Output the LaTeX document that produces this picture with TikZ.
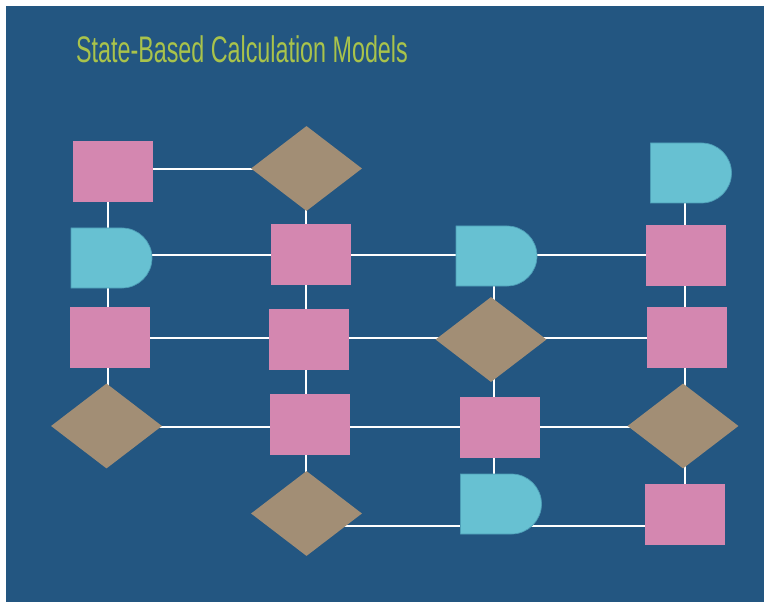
\documentclass[tikz,border=0pt]{standalone}
\usepackage{fontspec}
\setmainfont{Liberation Sans}
\usetikzlibrary{shapes.geometric, shapes.misc, positioning}

\definecolor{bgblue}{HTML}{235681}
\definecolor{boxpink}{HTML}{D487B0}
\definecolor{choicetan}{HTML}{A28E75}
\definecolor{delaycyan}{HTML}{67C1D2}
\definecolor{delayedge}{HTML}{4D9DB6}
\definecolor{titlegreen}{HTML}{A9C34B}

\pgfdeclarelayer{canvas}
\pgfdeclarelayer{links}
\pgfsetlayers{canvas,links,main}

\begin{document}
\begin{tikzpicture}[x=1pt, y=-1pt, link/.style={white, line width=2.8pt}]
        \tikzstyle{box}=[rectangle, fill=boxpink, minimum width=80pt, minimum height=61pt, inner sep=0pt]
        \tikzstyle{choice}=[diamond, fill=choicetan, minimum width=111pt, minimum height=85pt, inner sep=0pt]
        \tikzstyle{delay}=[rounded rectangle, rounded rectangle left arc=none, fill=delaycyan, draw=delayedge, line width=0.7pt, minimum width=81pt, minimum height=60pt, inner sep=0pt]
        \useasboundingbox (0,0) rectangle (766,604);
        \begin{pgfonlayer}{canvas}
          \fill[white] (0,0) rectangle (766,604);
          \fill[bgblue] (6,6) rectangle (764,602);
        \end{pgfonlayer}
        \node[anchor=base west, xscale=0.63, text=titlegreen, inner sep=0pt] (title) at (76,63)
          {\fontsize{37}{40}\selectfont State-Based Calculation Models};
        % rows and columns of the grid
        \coordinate (r1) at (0,169);
        \coordinate (r2) at (0,255);
        \coordinate (r3) at (0,338);
        \coordinate (r4) at (0,427);
        \coordinate (r5) at (0,526);
        \coordinate (cA) at (108,0);
        \coordinate (cB) at (306,0);
        \coordinate (cC) at (494,0);
        \coordinate (cD) at (685,0);
        % column A
        \node[box]    (A1) at (113,171.5) {};
        \node[delay]  (A2) at (111.5,258) {};
        \node[box]    (A3) at (110,337.5) {};
        \node[choice] (A4) at (106.5,426) {};
        % column B
        \node[choice] (B1) at (306.5,168.5) {};
        \node[box]    (B2) at (311,254.5) {};
        \node[box]    (B3) at (309,339.5) {};
        \node[box]    (B4) at (310,424.5) {};
        \node[choice] (B5) at (306.5,513.5) {};
        % column C
        \node[delay]  (C2) at (496.5,256) {};
        \node[choice] (C3) at (491,339.5) {};
        \node[box]    (C4) at (500,427.5) {};
        \node[delay]  (C5) at (501,504) {};
        % column D
        \node[delay]  (D1) at (691,173) {};
        \node[box]    (D2) at (686,255.5) {};
        \node[box]    (D3) at (687,337.5) {};
        \node[choice] (D4) at (683,426) {};
        \node[box]    (D5) at (685,514.5) {};
        \begin{pgfonlayer}{links}
          \foreach \a/\b/\r in {A1/B1/r1, A2/B2/r2, B2/C2/r2, C2/D2/r2, A3/B3/r3, B3/C3/r3, C3/D3/r3,
                                A4/B4/r4, B4/C4/r4, C4/D4/r4, B5/C5/r5, C5/D5/r5}
            \draw[link] (\a |- \r) -- (\b |- \r);
          \foreach \a/\b/\c in {A1/A2/cA, A2/A3/cA, A3/A4/cA, B1/B2/cB, B2/B3/cB, B3/B4/cB, B4/B5/cB,
                                C2/C3/cC, C3/C4/cC, C4/C5/cC, D1/D2/cD, D2/D3/cD, D3/D4/cD, D4/D5/cD}
            \draw[link] (\a -| \c) -- (\b -| \c);
        \end{pgfonlayer}
\end{tikzpicture}
\end{document}
